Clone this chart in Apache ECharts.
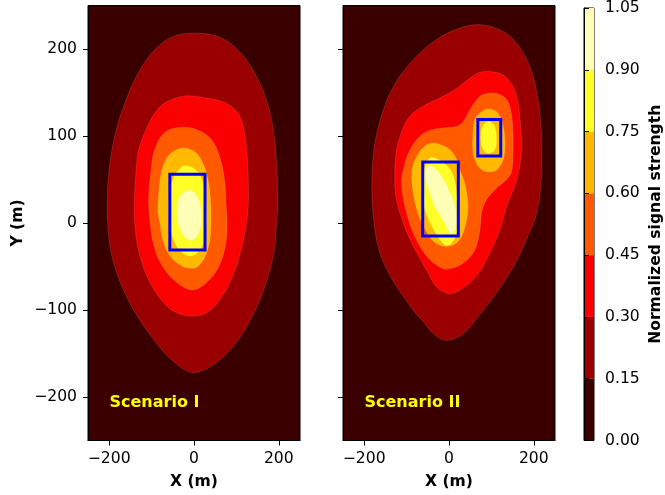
<!DOCTYPE html>
<html>
<head>
<meta charset="utf-8">
<script src="https://cdn.jsdelivr.net/npm/echarts@6/dist/echarts.min.js"></script>
<style>
  html, body { margin: 0; padding: 0; background: #fff; }
  #main { width: 665px; height: 495px; }
</style>
</head>
<body>
<div id="main"></div>
<script>
// axis ticks / contour levels
const xTicks = [-200, 0, 200];
const yTicks = [-200, -100, 0, 100, 200];
const levels = [0, 0.15, 0.30, 0.45, 0.60, 0.75, 0.90, 1.05];

// Scenario I contour outlines (x, y in metres)
const s1_015 = [[9,218],[64,213],[111,195],[151,165],[178,130],[190,96],[196,58],[198,19],[195,2],[190,-29],[174,-63],[147,-98],[108,-132],[57,-159],[-2,-172],[-49,-159],[-92,-136],[-140,-102],[-175,-67],[-196,-33],[-204,2],[-205,19],[-201,58],[-187,100],[-163,138],[-132,172],[-93,199],[-46,215]];
const s1_030 = [[-22,146],[25,144],[64,140],[88,134],[108,123],[119,104],[125,81],[128,50],[128,19],[123,-2],[112,-29],[92,-60],[64,-86],[33,-102],[-2,-107],[-46,-102],[-81,-86],[-112,-60],[-132,-29],[-140,2],[-141,19],[-138,50],[-132,81],[-116,104],[-93,126],[-69,138]];
const s1_045 = [[-30,110],[9,107],[41,96],[60,77],[72,50],[76,19],[78,2],[76,-21],[64,-44],[41,-63],[-2,-77],[-49,-65],[-81,-44],[-97,-21],[-104,2],[-107,27],[-102,58],[-93,84],[-69,104]];
const s1_060 = [[-30,86],[2,82],[21,69],[33,50],[39,27],[40,2],[37,-21],[25,-40],[9,-50],[-2,-52],[-26,-50],[-53,-40],[-73,-21],[-81,2],[-85,12],[-83,35],[-77,58],[-61,77]];
const s1_075 = [[-22,66],[2,62],[17,52],[26,35],[29,10],[27,-12],[18,-28],[4,-36],[-12,-38],[-28,-34],[-44,-24],[-55,-8],[-60,12],[-58,35],[-48,52],[-34,62]];
const s1_090 = [[-12,38],[5,33],[15,20],[17,0],[10,-13],[-5,-20],[-22,-16],[-36,-2],[-40,15],[-33,30]];
const s1_boxes = [[[-57,-31],[26,56]]];

// Scenario II contour outlines
const s2_015 = [[73,228],[120,222],[159,207],[191,180],[210,142],[218,104],[219,65],[214,30],[203,5],[187,-14],[159,-44],[120,-75],[73,-105],[34,-127],[-6,-135],[-35,-128],[-60,-114],[-85,-100],[-108,-84],[-130,-68],[-147,-53],[-162,-36],[-172,-16],[-179,10],[-182,42],[-178,81],[-162,119],[-131,157],[-84,188],[-29,211],[26,224]];
const s2_030 = [[96,174],[128,170],[151,157],[163,138],[169,111],[171,88],[167,65],[157,45],[136,19],[120,-8],[96,-35],[65,-61],[26,-77],[-2,-81],[-30,-73],[-53,-54],[-84,-27],[-108,0],[-124,27],[-128,50],[-125,80],[-113,103],[-92,123],[-62,134],[-33,141],[-5,148],[22,156],[48,166],[72,173]];
const s2_045 = [[81,148],[112,149],[136,142],[147,126],[151,103],[151,80],[147,58],[132,48],[112,40],[89,27],[77,12],[73,-8],[61,-31],[34,-46],[-2,-53],[-21,-51],[-53,-38],[-84,-12],[-104,19],[-112,45],[-108,61],[-96,80],[-76,96],[-53,105],[-21,109],[18,111],[34,117],[49,130],[66,142]];
const s2_060a = [[96,131],[116,126],[128,111],[132,92],[128,73],[112,61],[89,59],[69,65],[57,80],[56,100],[61,119],[77,128]];
const s2_060b = [[-37,92],[-6,87],[14,77],[26,61],[38,44],[45,19],[38,-4],[22,-21],[-6,-27],[-37,-21],[-64,0],[-80,23],[-88,50],[-86,65],[-72,80],[-55,89]];
const s2_075a = [[93,117],[108,111],[112,96],[108,84],[93,80],[81,84],[75,96],[79,111]];
const s2_075b = [[-45,75],[-25,73],[-5,66],[10,55],[18,35],[21,10],[19,-10],[8,-22],[-6,-26],[-20,-20],[-38,-6],[-55,12],[-64,35],[-60,58]];
const s2_090 = [[-50,66],[-33,63],[-15,52],[0,38],[14,20],[17,-4],[4,-12],[-10,0],[-29,15],[-45,34],[-55,52]];
const s2_boxes = [[[-62,-15],[22,70]], [[68,77],[122,119]]];

// hot colormap, one colour per band between levels
const bandColors = ['#3a0000', '#9a0000', '#fa0000', '#ff5a00', '#ffba00', '#ffff28', '#ffffb7'];

const panelI = [[0.15, s1_015], [0.30, s1_030], [0.45, s1_045], [0.60, s1_060], [0.75, s1_075], [0.90, s1_090]];
const panelII = [[0.15, s2_015], [0.30, s2_030], [0.45, s2_045], [0.60, s2_060a], [0.60, s2_060b],
                 [0.75, s2_075a], [0.75, s2_075b], [0.90, s2_090]];

const FONT = 'DejaVu Sans';
const FS = 15.6;
const minus = v => (v < 0 ? '\u2212' + Math.abs(v) : String(v));

function contourSeries(idx, rings) {
    return {
        type: 'custom',
        xAxisIndex: idx,
        yAxisIndex: idx,
        silent: true,
        data: rings.map(r => [0, r[0]]),
        renderItem: function (params, api) {
            const ring = rings[params.dataIndex];
            const pts = ring[1].map(p => api.coord(p));
            return {
                type: 'polygon',
                shape: { points: pts, smooth: 0.35 },
                style: { fill: bandColors[levels.indexOf(ring[0])], stroke: 'rgba(255,200,200,0.3)', lineWidth: 0.5 }
            };
        }
    };
}

function boxSeries(idx, boxes) {
    return {
        type: 'custom',
        xAxisIndex: idx,
        yAxisIndex: idx,
        silent: true,
        z: 5,
        data: boxes.map(b => [b[0][0], b[0][1]]),
        renderItem: function (params, api) {
            const b = boxes[params.dataIndex];
            const p0 = api.coord(b[0]);
            const p1 = api.coord(b[1]);
            return {
                type: 'rect',
                shape: { x: p0[0], y: p1[1], width: p1[0] - p0[0], height: p0[1] - p1[1] },
                style: { fill: 'none', stroke: '#0000ff', lineWidth: 3 }
            };
        }
    };
}

function xAxisFor(idx) {
    return {
        gridIndex: idx, type: 'value', min: -250, max: 250, z: 10,
        axisLine: { show: true, onZero: false, lineStyle: { color: '#000', width: 1 } },
        axisTick: { show: true, customValues: xTicks, length: 5, lineStyle: { color: '#000' } },
        axisLabel: { customValues: xTicks, formatter: minus, fontSize: FS, color: '#000', margin: 10, fontFamily: FONT },
        splitLine: { show: false },
        name: 'X (m)', nameLocation: 'middle', nameGap: 33,
        nameTextStyle: { fontSize: FS, fontWeight: 'bold', color: '#000', fontFamily: FONT }
    };
}

function yAxisFor(idx, labels) {
    const ax = {
        gridIndex: idx, type: 'value', min: -250, max: 250, z: 10,
        axisLine: { show: true, onZero: false, lineStyle: { color: '#000', width: 1 } },
        axisTick: { show: true, customValues: yTicks, length: 5, lineStyle: { color: '#000' } },
        axisLabel: { show: labels, customValues: yTicks, formatter: minus, fontSize: FS, color: '#000', margin: 11, fontFamily: FONT },
        splitLine: { show: false }
    };
    if (labels) {
        ax.name = 'Y (m)';
        ax.nameLocation = 'middle';
        ax.nameRotate = 90;
        ax.nameGap = 62;
        ax.nameTextStyle = { fontSize: FS, fontWeight: 'bold', color: '#000', fontFamily: FONT };
    }
    return ax;
}

const chart = echarts.init(document.getElementById('main'), null, { renderer: 'canvas' });

const option = {
    animation: false,
    backgroundColor: '#fff',
    grid: [
        { left: 88, top: 5.5, width: 212, height: 435, show: true, backgroundColor: bandColors[0], borderColor: '#000', borderWidth: 1 },
        { left: 343, top: 5.5, width: 212, height: 435, show: true, backgroundColor: bandColors[0], borderColor: '#000', borderWidth: 1 },
        { left: 584, top: 5.5, width: 12, height: 435, show: true, borderColor: '#000', borderWidth: 1 }
    ],
    xAxis: [
        xAxisFor(0),
        xAxisFor(1),
        { gridIndex: 2, type: 'value', min: 0, max: 1, show: false }
    ],
    yAxis: [
        yAxisFor(0, true),
        yAxisFor(1, false),
        {
            gridIndex: 2, type: 'value', min: 0, max: 1.05, position: 'right', z: 10,
            axisLine: { show: true, lineStyle: { color: '#000', width: 1 } },
            axisTick: { show: true, customValues: levels, length: 5, lineStyle: { color: '#000' } },
            axisLabel: { customValues: levels, formatter: v => v.toFixed(2), fontSize: FS, color: '#000', margin: 11, fontFamily: FONT },
            splitLine: { show: false },
            name: 'Normalized signal strength', nameLocation: 'middle', nameRotate: 90, nameGap: 54,
            nameTextStyle: { fontSize: FS, fontWeight: 'bold', color: '#000', fontFamily: FONT }
        }
    ],
    graphic: [
        { type: 'text', left: 109.5, top: 395, z: 20, silent: true,
          style: { text: 'Scenario I', fill: '#ffff00', font: 'bold 16px "DejaVu Sans"' } },
        { type: 'text', left: 364.5, top: 395, z: 20, silent: true,
          style: { text: 'Scenario II', fill: '#ffff00', font: 'bold 16px "DejaVu Sans"' } }
    ],
    series: [
        contourSeries(0, panelI),
        boxSeries(0, s1_boxes),
        contourSeries(1, panelII),
        boxSeries(1, s2_boxes),
        {
            type: 'custom',
            xAxisIndex: 2,
            yAxisIndex: 2,
            silent: true,
            data: levels.slice(0, -1).map((lo, i) => [lo, levels[i + 1]]),
            renderItem: function (params, api) {
                const p0 = api.coord([0, api.value(0)]);
                const p1 = api.coord([1, api.value(1)]);
                return {
                    type: 'rect',
                    shape: { x: p0[0], y: p1[1], width: p1[0] - p0[0], height: p0[1] - p1[1] },
                    style: { fill: bandColors[params.dataIndex] }
                };
            }
        }
    ]
};

chart.setOption(option);
</script>
</body>
</html>
